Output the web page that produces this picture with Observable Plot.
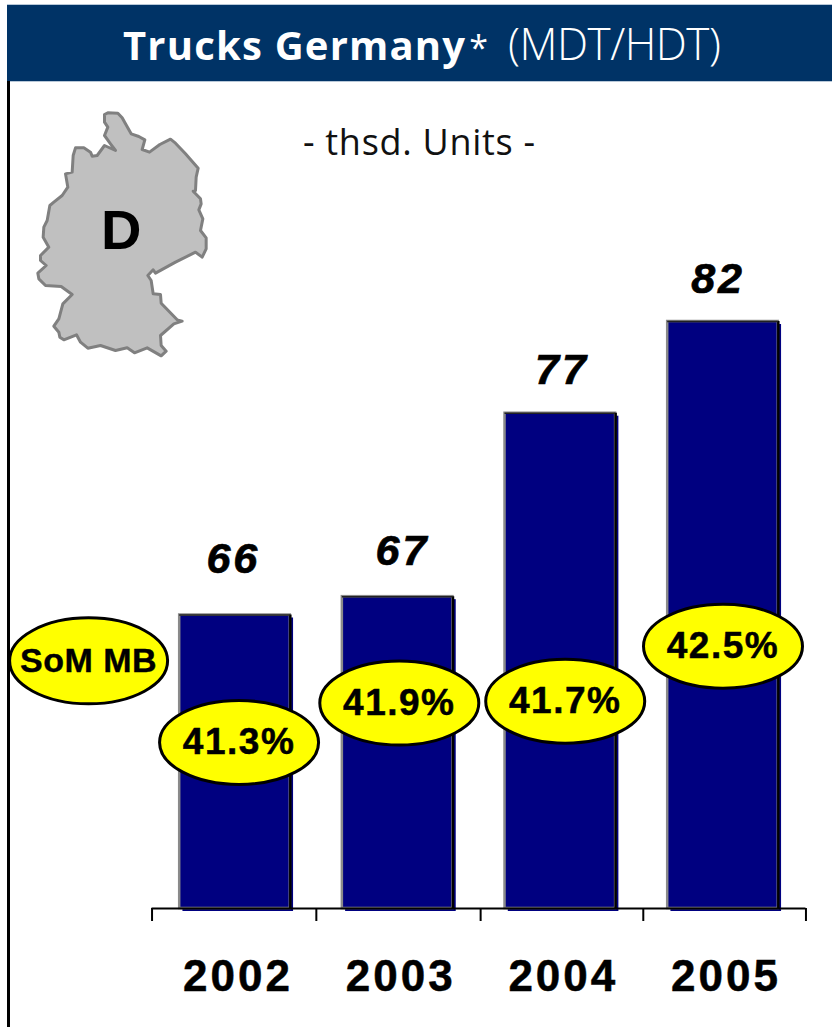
<!DOCTYPE html>
<html><head><meta charset="utf-8">
<script src="https://cdn.jsdelivr.net/npm/d3@7"></script>
<script src="https://cdn.jsdelivr.net/npm/@observablehq/plot@0.6"></script>
<style>
html,body{margin:0;padding:0;background:#fff;width:832px;height:1027px;overflow:hidden}
#wrap{position:relative;width:832px;height:1027px}
#banner{position:absolute;left:7px;top:5px;width:825px;height:76px;background:#003366;color:#fff;
 font:400 40px "Open Sans",sans-serif;line-height:76px;white-space:nowrap;box-shadow:0 -1px 0 #b8c8d8,0 1px 0 #b8c8d8}
#banner span.t{position:absolute;left:116px;top:0px}
#banner b{font-weight:700;letter-spacing:1.2px}
#banner u{text-decoration:none;font-size:34px;margin-left:3px}
#banner i{font-style:normal;font-weight:300;font-size:44px;margin-left:20px;letter-spacing:-.5px}
#leftline{position:absolute;left:7px;top:81px;width:3px;height:946px;background:#000}
#sub{position:absolute;left:303px;top:117px;font:400 36px "Open Sans",sans-serif;color:#111;white-space:nowrap;letter-spacing:.7px}
#chart{position:absolute;left:0;top:81px}
#map{position:absolute;left:0;top:0}
.yrs text{letter-spacing:3px;stroke:#000;stroke-width:.5px}
.vals text{letter-spacing:3px;stroke:#000;stroke-width:.7px}
.pct text{letter-spacing:1.5px;stroke:#000;stroke-width:.5px}
.leg text{letter-spacing:.5px;stroke:#000;stroke-width:.4px}
</style></head><body>
<div id="wrap">
<div id="banner"><span class="t"><b>Trucks Germany</b><u>*</u><i>(MDT/HDT)</i></span></div>
<div id="leftline"></div>
<div id="sub">- thsd. Units -</div>
<div id="map"></div>
<div id="chart"></div>
</div>
<script>
const years = [2002, 2003, 2004, 2005];
const units = [66, 67, 77, 82];
const share = ["41.3%", "41.9%", "41.7%", "42.5%"];
const tickEdges = [2001.49, 2002.5, 2003.51, 2004.51, 2005.51];
const unitLabelX = [2001.99, 2003.03, 2004.01, 2004.97];
const unitLabelY = [69.05, 69.45, 79.35, 84.3];
const shareX = [2002.025, 2003.01, 2004.03, 2005.0];
const shareY = [59.05, 61.2, 61.3, 64.3];
const legendLabel = ["SoM MB"];
const legendX = [2001.1];
const legendY = [63.5];

const bars = years.map((year, i) => ({year, value: units[i]}));
const unitTexts = units.map((v, i) => ({x: unitLabelX[i], y: unitLabelY[i], v}));
const shareTexts = share.map((s, i) => ({x: shareX[i], y: shareY[i], s}));
const legend = legendLabel.map((s, i) => ({x: legendX[i], y: legendY[i], s}));

const ellipse = (rx, ry) => ({draw(c) {
  const k = 0.5523;
  c.moveTo(-rx, 0);
  c.bezierCurveTo(-rx, -k*ry, -k*rx, -ry, 0, -ry);
  c.bezierCurveTo(k*rx, -ry, rx, -k*ry, rx, 0);
  c.bezierCurveTo(rx, k*ry, k*rx, ry, 0, ry);
  c.bezierCurveTo(-k*rx, ry, -rx, k*ry, -rx, 0);
  c.closePath();
}});
const hw = 0.34;
const font = "'Liberation Sans',Arial,sans-serif";

const chart = Plot.plot({
  width: 832, height: 946, margin: 0,
  marginBottom: 119,
  style: {background: "transparent", fontFamily: font},
  x: {type: "linear", domain: [2002, 2005], range: [234.5, 722.5], axis: null},
  y: {type: "linear", domain: [50, 82], range: [827, 240], axis: null},
  marks: [
    Plot.rectY(bars, {x1: d => d.year - hw + 0.02, x2: d => d.year + hw + 0.02, y1: 50, y2: "value", fill: "#000080", dy: 3}),
    Plot.rectY(bars, {x1: d => d.year - hw, x2: d => d.year + hw, y1: 50, y2: "value", fill: "#000080", stroke: "#8a8a8a", strokeWidth: 2.5}),
    Plot.ruleX(bars, {x: d => d.year + hw, y1: 50, y2: "value", stroke: "#000", strokeWidth: 2.5}),
    Plot.ruleY(bars, {y: "value", x1: d => d.year - hw, x2: d => d.year + hw, stroke: "#222", strokeWidth: 1.5}),
    Plot.ruleY([50], {x1: tickEdges[0], x2: tickEdges[4], stroke: "#000", strokeWidth: 2}),
    Plot.ruleX(tickEdges, {x: d => d, y1: 50, y2: 49.29, stroke: "#000", strokeWidth: 2}),
    Plot.axisX(years, {anchor: "bottom", label: null, tickSize: 0, tickPadding: 51, tickFormat: d => String(d), fontSize: 44, fontWeight: 700, lineAnchor: "top", fill: "#000", dx: 3, className: "yrs"}),
    Plot.text(unitTexts, {x: "x", y: "y", text: d => String(d.v), fontSize: 43, fontWeight: 700, fontStyle: "italic", fill: "#000", className: "vals"}),
    Plot.dot(shareTexts, {x: "x", y: "y", r: 10, symbol: ellipse(79.5, 42), fill: "#ffff00", stroke: "#000", strokeWidth: 3}),
    Plot.text(shareTexts, {x: "x", y: "y", text: "s", fontSize: 37, fontWeight: 700, fill: "#000", className: "pct"}),
    Plot.dot(legend, {x: "x", y: "y", r: 10, symbol: ellipse(79, 43), fill: "#ffff00", stroke: "#000", strokeWidth: 3}),
    Plot.text(legend, {x: "x", y: "y", text: "s", fontSize: 34, fontWeight: 700, fill: "#000", className: "leg"})
  ]
});
document.getElementById("chart").append(chart);

const mapX = [312,322,352,365,375,392,415,433,425,447,478,510,525,555,593,587,585,578,600,602,595,607,600,617,617,605,585,525,465,458,442,452,458,480,482,530,545,520,480,482,497,482,440,402,380,345,300,262,240,228,190,178,175,160,175,187,215,182,135,115,112,137,120,120,145,128,130,140,148,160,185,202,195,215,218,225,250,270,275,290,312,345,330,312,322,312,312];
const mapY = [342,337,338,352,370,400,408,418,447,455,432,416,428,460,503,530,570,572,595,610,628,655,690,712,745,770,755,785,818,808,825,840,880,882,908,958,962,970,1005,1035,1052,1066,1042,1057,1042,1050,1035,1043,1025,1003,1018,1010,995,977,955,910,882,858,855,835,818,795,780,765,740,710,680,660,615,605,585,560,520,515,465,442,442,455,467,465,435,450,430,405,380,365,342];
const countryLabel = ["D"];
const map = Plot.plot({
  width: 300, height: 370, margin: 0,
  style: {background: "transparent", fontFamily: font},
  x: {domain: [0, 900], range: [0, 300], axis: null},
  y: {domain: [0, 1110], range: [0, 370], axis: null},
  marks: [
    Plot.line(mapX.map((x, i) => ({x, y: mapY[i]})), {x: "x", y: "y", fill: "#c0c0c0", stroke: "#808080", strokeWidth: 3, strokeLinejoin: "round"}),
    Plot.text(countryLabel, {x: () => 362, y: () => 692, text: d => d, fontSize: 56, fontWeight: 700, fill: "#000"})
  ]
});
document.getElementById("map").append(map);
</script>
</body></html>
